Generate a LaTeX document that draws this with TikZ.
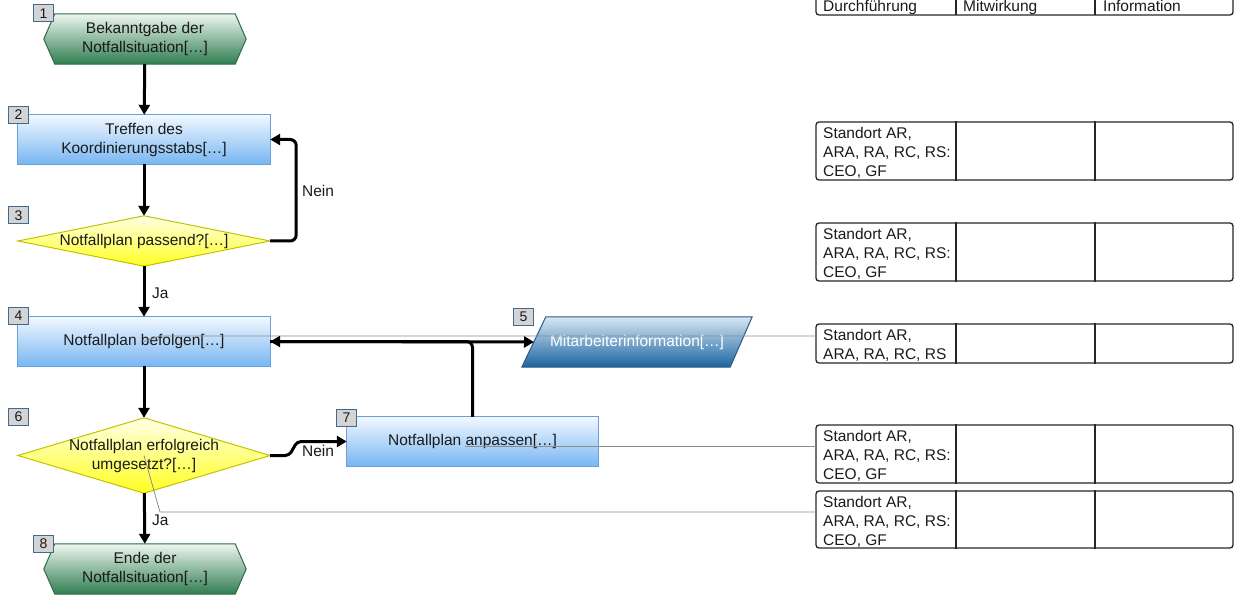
\documentclass[tikz,border=0pt]{standalone}
\usepackage{fontspec}
\setmainfont{Liberation Sans}
\usetikzlibrary{arrows.meta,backgrounds}
\definecolor{grT}{HTML}{EEF6F0}
\definecolor{grB}{HTML}{2F7D50}
\definecolor{grD}{HTML}{2D6B45}
\definecolor{blT}{HTML}{F2F8FF}
\definecolor{blB}{HTML}{78B6F2}
\definecolor{blD}{HTML}{6A9FD8}
\definecolor{yeT}{HTML}{FFFFE6}
\definecolor{yeB}{HTML}{FFFF20}
\definecolor{yeD}{HTML}{C2C200}
\definecolor{pbT}{HTML}{D6E8F5}
\definecolor{pbB}{HTML}{1B64A0}
\definecolor{pbD}{HTML}{2A5A85}
\definecolor{nbF}{HTML}{D4D4D4}
\definecolor{nbD}{HTML}{3F6A92}
\definecolor{txt}{HTML}{1A1A1A}
\newcommand\dtxt{\fontsize{15.5}{19}\selectfont}
\newcommand\ntxt{\fontsize{14}{16}\selectfont}
\begin{document}
\begin{tikzpicture}[x=1pt,y=-1pt,
  shapebox/.style={inner sep=0pt,align=center,font=\dtxt,text=txt},
  numbox/.style={draw=nbD,fill=nbF,line width=1pt,inner sep=0pt,minimum width=20pt,minimum height=17pt,font=\ntxt,text=txt},
  flow/.style={line width=3pt,-{Triangle[length=10pt,width=11pt]}},
  info/.style={line width=0.8pt,black!45},
  lbl/.style={font=\dtxt,text=txt,inner sep=0pt},
  rowbox/.style={draw=black!85,line width=1.3pt,rounded corners=3pt,minimum width=417pt,inner sep=0pt},
  celltxt/.style={font=\dtxt,text=txt,inner sep=0pt,align=left,anchor=north west}]
\useasboundingbox (0,0) rectangle (1235,596);

% shape anchor nodes
\node[shapebox,minimum width=202pt,minimum height=50pt] (h1) at (145,39) {Bekanntgabe der\\Notfallsituation[…]};
\node[shapebox,minimum width=252pt,minimum height=49pt] (b2) at (144,139.5) {Treffen des\\Koordinierungsstabs[…]};
\node[shapebox,minimum width=252pt,minimum height=50pt] (d3) at (144,241) {Notfallplan passend?[…]};
\node[shapebox,minimum width=252pt,minimum height=49pt] (b4) at (144,341.5) {Notfallplan befolgen[…]};
\node[shapebox,minimum width=206pt,minimum height=50pt,text=white] (p5) at (637,342) {Mitarbeiterinformation[…]};
\node[shapebox,minimum width=252pt,minimum height=75pt] (d6) at (144,455.5) {Notfallplan erfolgreich\\umgesetzt?[…]};
\node[shapebox,minimum width=251pt,minimum height=49pt] (b7) at (472.5,441.5) {Notfallplan anpassen[…]};
\node[shapebox,minimum width=202pt,minimum height=50pt] (h8) at (145,569) {Ende der\\Notfallsituation[…]};

\begin{scope}[on background layer]
  \shade[top color=grT,bottom color=grB,draw=grD,line width=1pt]
    (h1.west) -- ([xshift=11pt]h1.north west) -- ([xshift=-11pt]h1.north east) -- (h1.east)
    -- ([xshift=-11pt]h1.south east) -- ([xshift=11pt]h1.south west) -- cycle;
  \shade[top color=grT,bottom color=grB,draw=grD,line width=1pt]
    (h8.west) -- ([xshift=11pt]h8.north west) -- ([xshift=-11pt]h8.north east) -- (h8.east)
    -- ([xshift=-11pt]h8.south east) -- ([xshift=11pt]h8.south west) -- cycle;
  \shade[top color=blT,bottom color=blB,draw=blD,line width=1pt] (b2.north west) rectangle (b2.south east);
  \shade[top color=blT,bottom color=blB,draw=blD,line width=1pt] (b4.north west) rectangle (b4.south east);
  \shade[top color=blT,bottom color=blB,draw=blD,line width=1pt] (b7.north west) rectangle (b7.south east);
  \shade[top color=yeT,bottom color=yeB,draw=yeD,line width=1pt] (d3.west) -- (d3.north) -- (d3.east) -- (d3.south) -- cycle;
  \shade[top color=yeT,bottom color=yeB,draw=yeD,line width=1pt] (d6.west) -- (d6.north) -- (d6.east) -- (d6.south) -- cycle;
  \shade[top color=pbT,bottom color=pbB,draw=pbD,line width=1pt]
    ([xshift=12pt]p5.north west) -- ([xshift=12pt]p5.north east) -- ([xshift=-10pt]p5.south east) -- ([xshift=-12pt]p5.south west) -- cycle;
\end{scope}

% number boxes
\node[numbox] (n1) at (43.5,13.5) {1};
\node[numbox] (n2) at (18.5,115) {2};
\node[numbox] (n3) at (18.5,215.5) {3};
\node[numbox] (n4) at (18.5,316) {4};
\node[numbox] (n5) at (523.5,317) {5};
\node[numbox] (n6) at (18.5,417) {6};
\node[numbox] (n7) at (346.5,418) {7};
\node[numbox] (n8) at (43.5,544) {8};

% table
\draw[draw=black!85,line width=1.3pt,rounded corners=3pt] (816,-10) rectangle (1233,15);
\draw[draw=black!85,line width=1.3pt] (956,-10) -- (956,15) (1095,-10) -- (1095,15);
\node[lbl,anchor=base west] (th1) at (823,12) {Durchführung};
\node[lbl,anchor=base west] (th2) at (963,12) {Mitwirkung};
\node[lbl,anchor=base west] (th3) at (1103,12) {Information};

\node[rowbox,minimum height=58pt] (r1) at (1024.5,151) {};
\node[rowbox,minimum height=58pt] (r2) at (1024.5,252) {};
\node[rowbox,minimum height=39pt] (r3) at (1024.5,343.5) {};
\node[rowbox,minimum height=58pt] (r4) at (1024.5,454) {};
\node[rowbox,minimum height=57pt] (r5) at (1024.5,519.5) {};
\foreach \r in {r1,r2,r3,r4,r5}{
  \draw[draw=black!85,line width=1.3pt] (\r.north -| 956,0) -- (\r.south -| 956,0) (\r.north -| 1095,0) -- (\r.south -| 1095,0);
}
\node[celltxt] (t1) at (823,127) {Standort AR,\\ARA, RA, RC, RS:\\CEO, GF};
\node[celltxt] (t2) at (823,228) {Standort AR,\\ARA, RA, RC, RS:\\CEO, GF};
\node[celltxt] (t3) at (823,329) {Standort AR,\\ARA, RA, RC, RS};
\node[celltxt] (t4) at (823,430) {Standort AR,\\ARA, RA, RC, RS:\\CEO, GF};
\node[celltxt] (t5) at (823,496) {Standort AR,\\ARA, RA, RC, RS:\\CEO, GF};

% info lines
\coordinate (c3) at (816,336);
\coordinate (c4) at (816,446);
\coordinate (c5) at (816,512);
\draw[info] (b4.center) -- (160,336) -- (c3);
\draw[info] (465,446) -- (c4);
\draw[info] (d6.center) -- (160,512) -- (c5);

% connectors
\coordinate (p5w) at (534,342);
\draw[flow] (h1) -- (b2);
\draw[flow] (b2) -- (d3);
\draw[flow,rounded corners=6pt] (d3.east) -- ++(26,0) |- (b2.east);
\node[lbl] (nein1) at (318,191) {Nein};
\draw[flow] (d3) -- (b4);
\node[lbl,anchor=west] (ja1) at (152,293) {Ja};
\draw[flow,rounded corners=6pt] (b7.north) |- (b4.east);
\draw[flow] (b4.east) -- (p5w);
\draw[flow] (b4) -- (d6);
\draw[flow,rounded corners=4pt] (d6.east) -- ++(19,0) -- ++(8,-14) -- (b7.west);
\node[lbl] (nein2) at (318,451) {Nein};
\draw[flow] (d6) -- (h8);
\node[lbl,anchor=west] (ja2) at (152,520) {Ja};
\end{tikzpicture}
\end{document}
